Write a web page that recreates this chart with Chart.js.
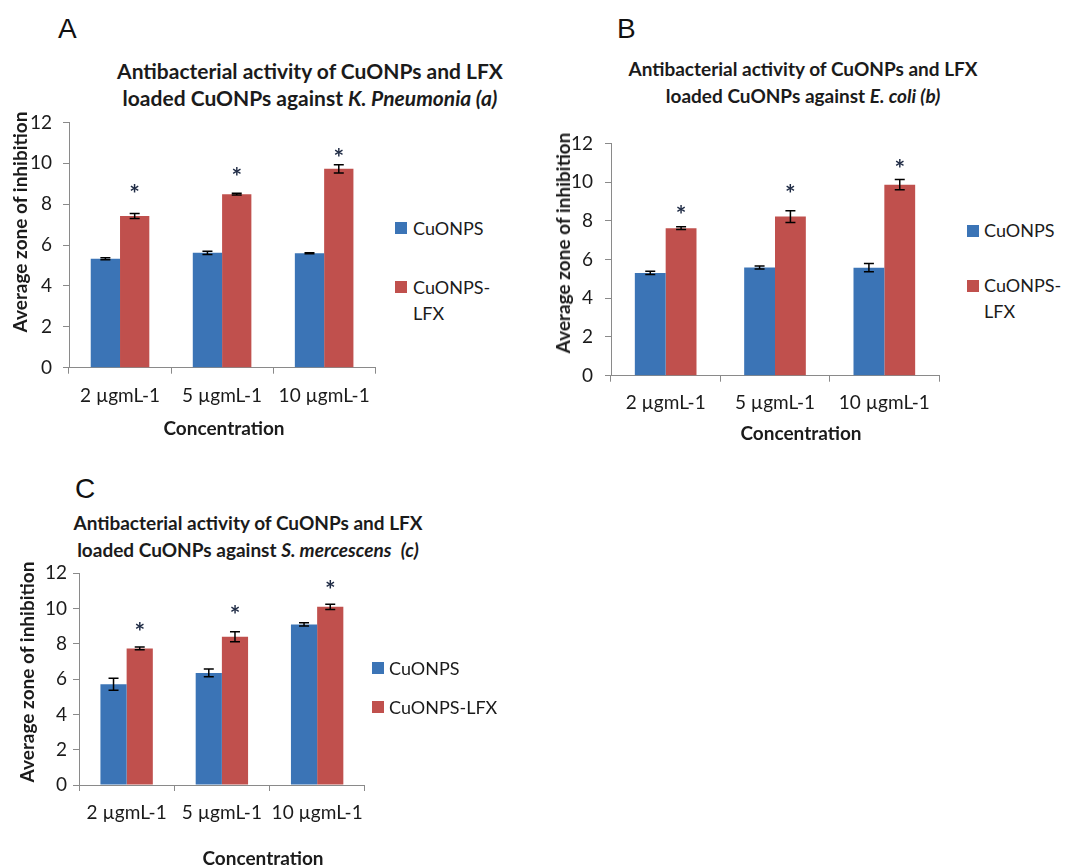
<!DOCTYPE html>
<html><head><meta charset="utf-8">
<script src="https://cdn.jsdelivr.net/npm/chart.js@4.4.0/dist/chart.umd.min.js"></script>
<style>
html,body{margin:0;padding:0;background:#fff;overflow:hidden;width:1071px;height:866px;position:relative;}
canvas{position:absolute;}
.ttl{position:absolute;font-family:Lato,sans-serif;font-weight:bold;color:#1b1b1b;text-align:center;white-space:nowrap;transform:translateX(-50%);line-height:27px;}
.ltr{position:absolute;font-family:"Liberation Sans",Arial,sans-serif;font-size:28px;line-height:28px;color:#111;}
.lg{position:absolute;font-family:Lato,sans-serif;font-size:18px;color:#1b1b1b;line-height:26px;white-space:nowrap;}
.bx{position:absolute;width:12px;height:12px;}
.axt{position:absolute;font-family:Lato,sans-serif;font-weight:bold;font-size:19px;line-height:22px;color:#1b1b1b;white-space:nowrap;transform:translate(-50%,-50%);}
.axt.v{transform:translate(-50%,-50%) rotate(-90deg);}
</style>
</head><body>
<div class="ltr" style="left:58px;top:15px;">A</div>
<div class="ltr" style="left:617px;top:15px;">B</div>
<div class="ltr" style="left:75px;top:475px;">C</div>

<div class="ttl" style="left:310px;top:57px;font-size:21px;">Antibacterial activity of CuONPs and LFX<br>loaded CuONPs against <i>K. Pneumonia (a)</i></div>
<div class="ttl" style="left:803px;top:55px;font-size:19px;">Antibacterial activity of CuONPs and LFX<br>loaded CuONPs against <i>E. coli (b)</i></div>
<div class="ttl" style="left:248px;top:509px;font-size:19px;">Antibacterial activity of CuONPs and LFX<br>loaded CuONPs against <i>S. mercescens</i>&nbsp; <i>(c)</i></div>

<canvas id="cA" width="381" height="345" style="left:0px;top:100px;"></canvas>
<canvas id="cB" width="401" height="330" style="left:540px;top:120px;"></canvas>
<canvas id="cC" width="373" height="330" style="left:0px;top:555px;"></canvas>

<div id="axA"></div><div id="axB"></div><div id="axC"></div>
<div id="legA"></div><div id="legB"></div><div id="legC"></div>

<script>
// ---- data ----
const categories = ['2 µgmL-1', '5 µgmL-1', '10 µgmL-1'];
const seriesNames = ['CuONPS', 'CuONPS-LFX'];
const xAxisTitle = 'Concentration';
const yAxisTitle = 'Average zone of inhibition';
const yTickMin = 0, yTickMax = 12, yTickStep = 2;

// Panel A: K. Pneumonia
const aCuO = [5.33, 5.62, 5.60];
const aCuOErr = [0.05, 0.08, 0.02];
const aLfx = [7.42, 8.49, 9.73];
const aLfxErr = [0.12, 0.04, 0.20];
const aStar = [8.75, 9.62, 10.54];

// Panel B: E. coli
const bCuO = [5.31, 5.59, 5.58];
const bCuOErr = [0.08, 0.08, 0.21];
const bLfx = [7.62, 8.22, 9.87];
const bLfxErr = [0.07, 0.30, 0.26];
const bStar = [8.60, 9.65, 10.98];

// Panel C: S. mercescens
const cCuO = [5.71, 6.35, 9.10];
const cCuOErr = [0.34, 0.22, 0.09];
const cLfx = [7.74, 8.40, 10.10];
const cLfxErr = [0.08, 0.28, 0.15];
const cStar = [8.97, 9.97, 11.38];

// ---- style ----
const BLUE = '#3b74b6', RED = '#c0504d', AXIS = '#8a8a8a', TXT = '#1b1b1b';
const FONT = 'Lato, sans-serif';

const errPlugin = {
  id: 'errbars',
  afterDatasetsDraw(chart, args, opts) {
    const ctx = chart.ctx, ys = chart.scales.y;
    ctx.save();
    ctx.strokeStyle = '#000';
    ctx.lineWidth = 1.5;
    chart.data.datasets.forEach((ds, di) => {
      const meta = chart.getDatasetMeta(di);
      meta.data.forEach((bar, i) => {
        const v = ds.data[i], e = ds.errors[i];
        const x = bar.x;
        const yt = ys.getPixelForValue(v + e), yb = ys.getPixelForValue(v - e);
        const cw = 5;
        ctx.beginPath();
        ctx.moveTo(x, yt); ctx.lineTo(x, yb);
        ctx.moveTo(x - cw, yt); ctx.lineTo(x + cw, yt);
        ctx.moveTo(x - cw, yb); ctx.lineTo(x + cw, yb);
        ctx.stroke();
      });
    });
    const meta = chart.getDatasetMeta(1);
    ctx.font = 'bold 25px ' + FONT;
    ctx.fillStyle = '#1e2a44';
    ctx.textAlign = 'center';
    ctx.textBaseline = 'alphabetic';
    const m = ctx.measureText('*');
    const off = (m.actualBoundingBoxAscent - m.actualBoundingBoxDescent) / 2;
    opts.stars.forEach((s, i) => {
      const x = meta.data[i].x;
      ctx.fillText('*', x, ys.getPixelForValue(s) + off);
    });
    ctx.restore();
  }
};

function makeChart(id, p) {
  const ctx = document.getElementById(id).getContext('2d');
  return new Chart(ctx, {
    type: 'bar',
    data: {
      labels: categories,
      datasets: [
        { label: seriesNames[0], data: p.cuo, errors: p.cuoErr, backgroundColor: BLUE, borderWidth: 0,
          categoryPercentage: p.cat, barPercentage: 1 },
        { label: seriesNames[1], data: p.lfx, errors: p.lfxErr, backgroundColor: RED, borderWidth: 0,
          categoryPercentage: p.cat, barPercentage: 1 }
      ]
    },
    options: {
      responsive: false,
      animation: false,
      devicePixelRatio: 1,
      layout: { padding: { top: p.padTop, right: 2, left: 0, bottom: 0 } },
      plugins: {
        legend: { display: false },
        tooltip: { enabled: false },
        title: { display: false },
        errbars: { stars: p.stars }
      },
      scales: {
        x: {
          offset: true,
          grid: { display: true, drawOnChartArea: false, drawTicks: true, tickLength: 6, color: AXIS, offset: true },
          border: { display: true, color: AXIS, width: 1 },
          ticks: { font: { family: FONT, size: 19 }, color: TXT, padding: p.xTickPad, maxRotation: 0, autoSkip: false },
          title: { display: false, text: xAxisTitle },
          afterFit: s => { s.height = p.xH; }
        },
        y: {
          min: yTickMin, max: yTickMax,
          grid: { display: true, drawOnChartArea: false, drawTicks: true, tickLength: 6, color: AXIS },
          border: { display: true, color: AXIS, width: 1 },
          ticks: { stepSize: yTickStep, font: { family: FONT, size: 19 }, color: TXT, padding: p.yTickPad },
          title: { display: false, text: yAxisTitle },
          afterFit: s => { s.width = p.yW; }
        }
      }
    },
    plugins: [errPlugin]
  });
}

makeChart('cA', { cuo: aCuO, cuoErr: aCuOErr, lfx: aLfx, lfxErr: aLfxErr, stars: aStar,
  cat: 0.574, padTop: 15, yW: 69, xH: 77.3, xTickPad: 11, yTickPad: 11 });
makeChart('cB', { cuo: bCuO, cuoErr: bCuOErr, lfx: bLfx, lfxErr: bLfxErr, stars: bStar,
  cat: 0.564, padTop: 21, yW: 71, xH: 74.3, xTickPad: 10, yTickPad: 12 });
makeChart('cC', { cuo: cCuO, cuoErr: cCuOErr, lfx: cLfx, lfxErr: cLfxErr, stars: cStar,
  cat: 0.55, padTop: 18.3, yW: 79, xH: 100, xTickPad: 10, yTickPad: 6 });

// ---- HTML axis titles ----
function axisTitles(id, xc, yc) {
  const el = document.getElementById(id);
  const x = document.createElement('div');
  x.className = 'axt';
  x.style.left = xc[0] + 'px'; x.style.top = xc[1] + 'px';
  x.textContent = xAxisTitle;
  el.appendChild(x);
  const y = document.createElement('div');
  y.className = 'axt v';
  y.style.left = yc[0] + 'px'; y.style.top = yc[1] + 'px';
  y.textContent = yAxisTitle;
  el.appendChild(y);
}
axisTitles('axA', [224, 428], [20, 222]);
axisTitles('axB', [801, 433], [563, 243]);
axisTitles('axC', [263, 858], [27, 672]);

// ---- HTML legends ----
function legend(id, items) {
  const el = document.getElementById(id);
  items.forEach(it => {
    const b = document.createElement('div');
    b.className = 'bx';
    b.style.left = it.bx + 'px'; b.style.top = it.by + 'px'; b.style.background = it.color;
    el.appendChild(b);
    const t = document.createElement('div');
    t.className = 'lg';
    t.style.left = it.tx + 'px'; t.style.top = it.ty + 'px';
    t.innerHTML = it.text;
    el.appendChild(t);
  });
}
legend('legA', [
  { bx: 395, by: 222, tx: 413, ty: 215, color: BLUE, text: seriesNames[0] },
  { bx: 395, by: 281, tx: 413, ty: 274, color: RED, text: 'CuONPS-<br>LFX' }
]);
legend('legB', [
  { bx: 967, by: 225, tx: 984, ty: 217, color: BLUE, text: seriesNames[0] },
  { bx: 967, by: 280, tx: 984, ty: 272, color: RED, text: 'CuONPS-<br>LFX' }
]);
legend('legC', [
  { bx: 372, by: 662, tx: 389, ty: 655, color: BLUE, text: seriesNames[0] },
  { bx: 372, by: 701, tx: 389, ty: 694, color: RED, text: seriesNames[1] }
]);
</script>
</body></html>
